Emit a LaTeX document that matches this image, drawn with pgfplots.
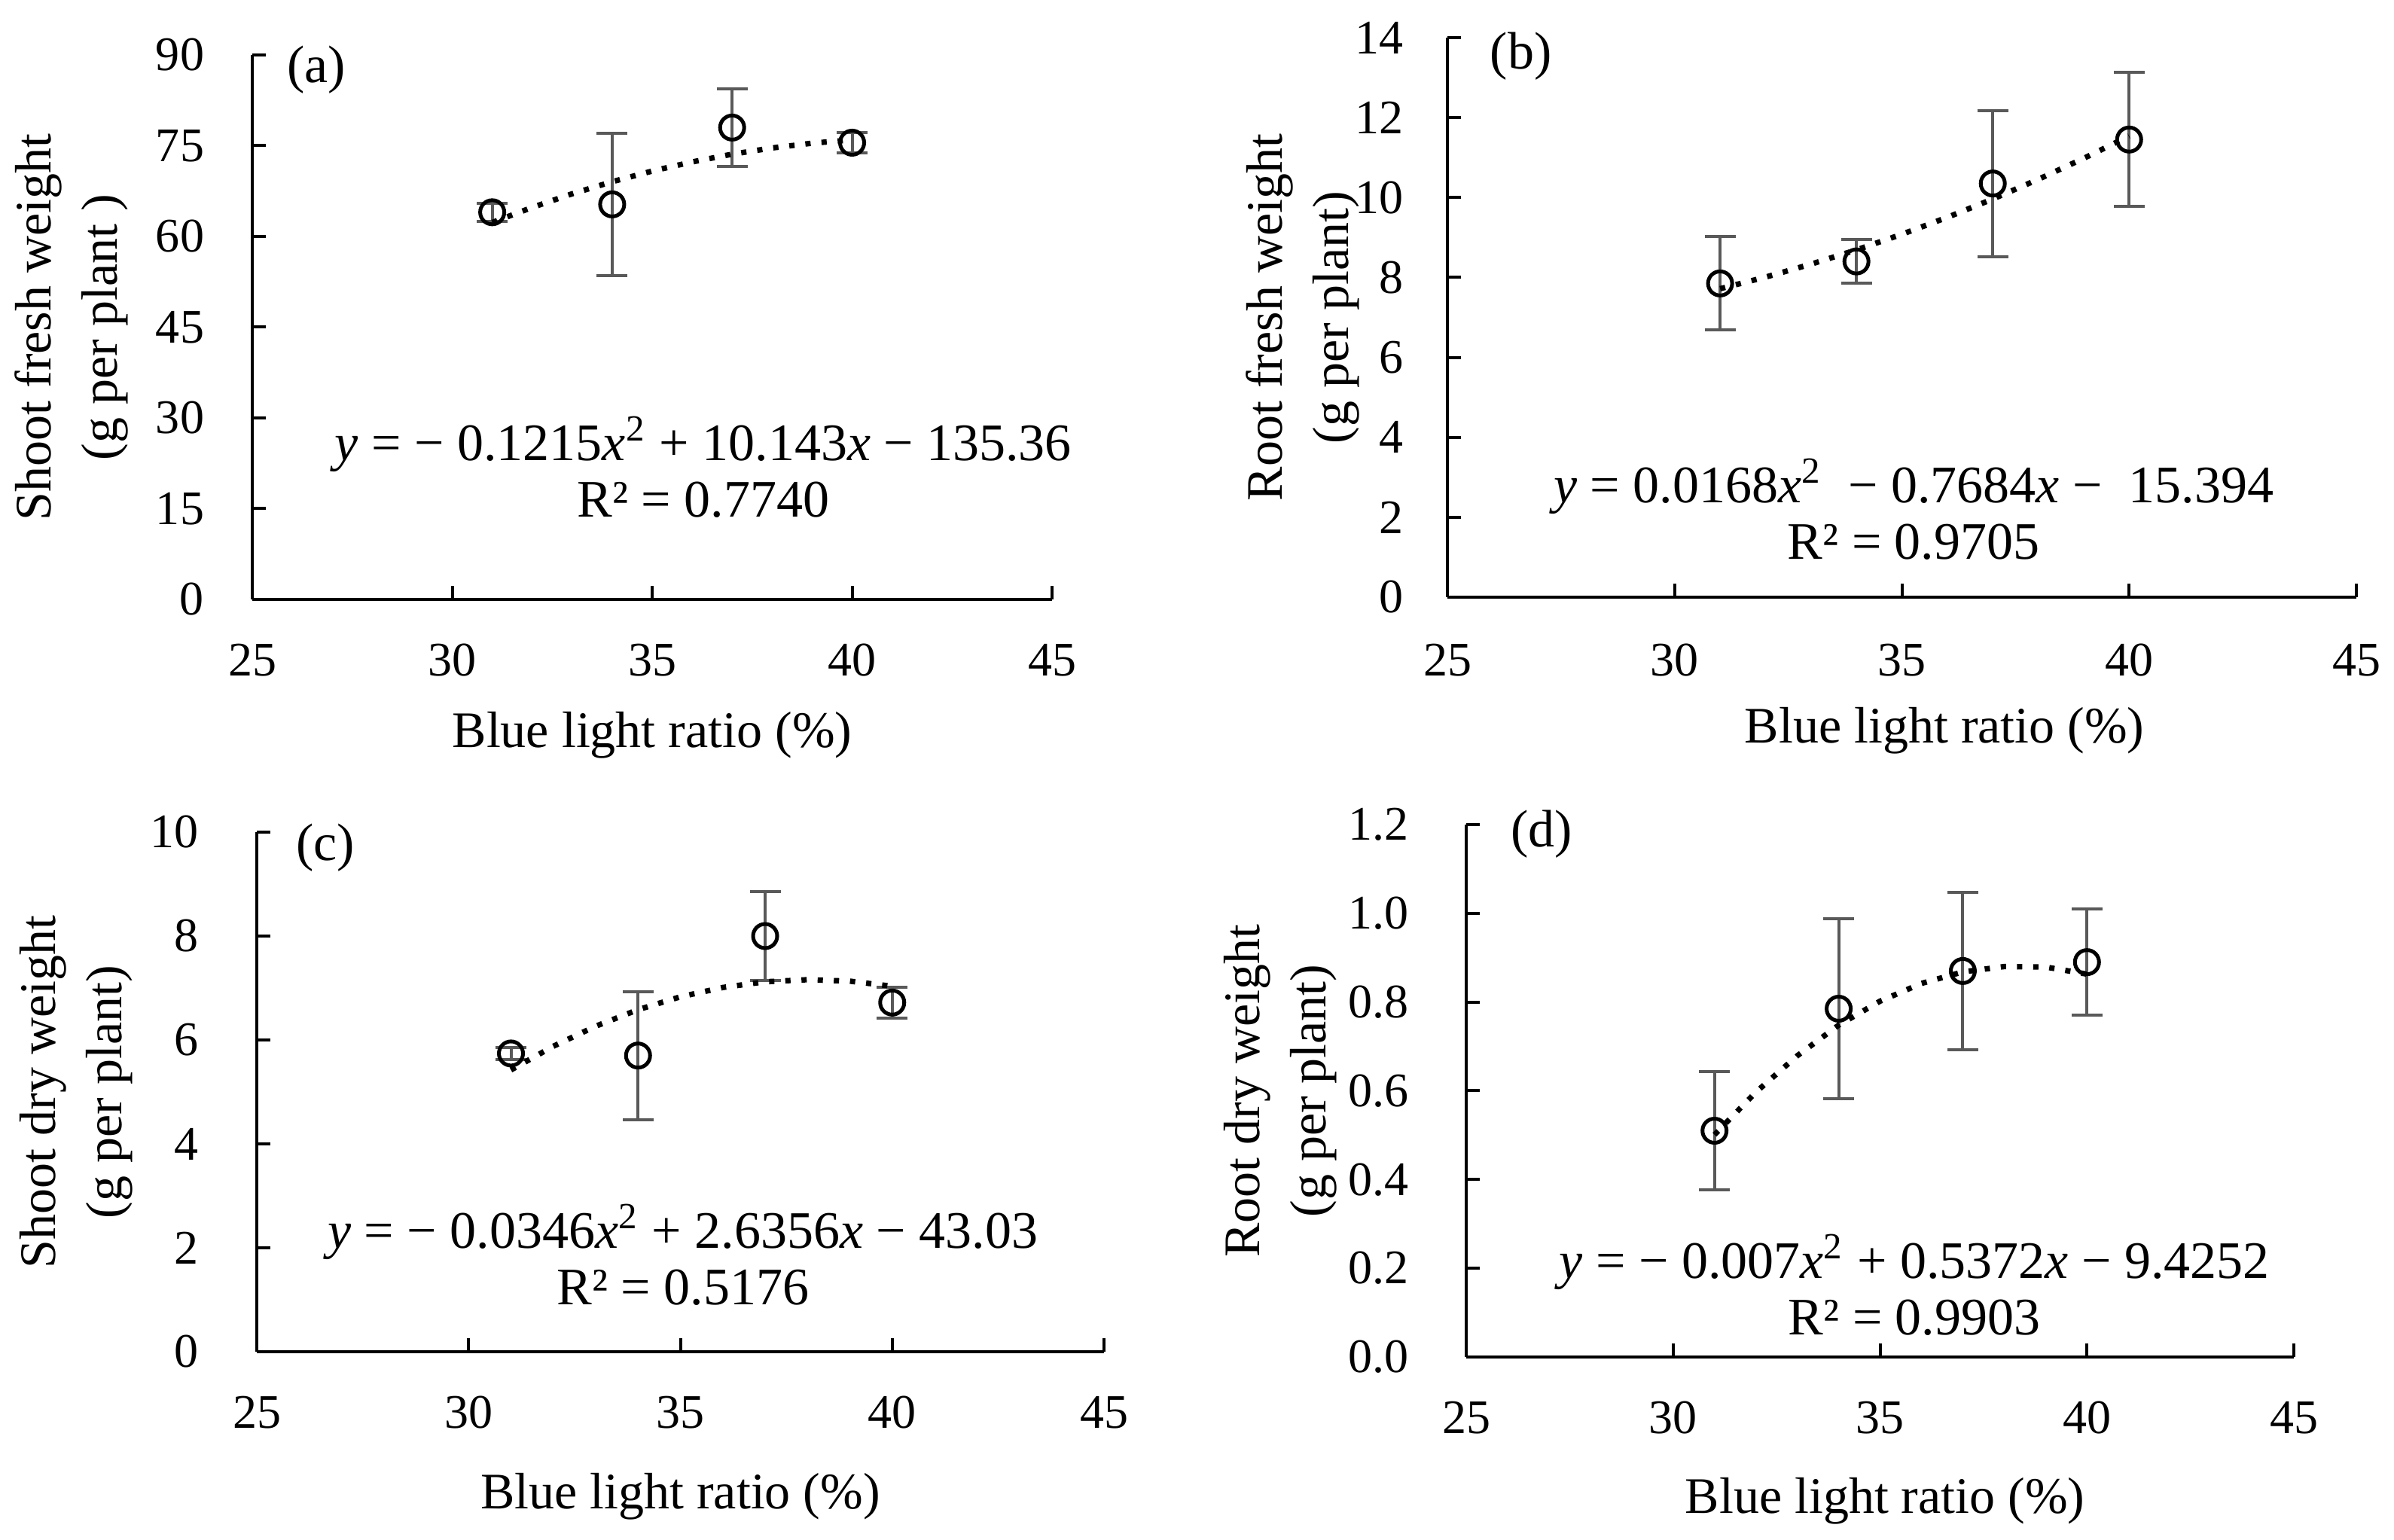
\documentclass[border=0pt]{standalone}
\usepackage{pgfplots}
\pgfplotsset{compat=1.18}
\usepackage{fontspec}
\setmainfont{Liberation Serif}
\definecolor{errgray}{HTML}{595959}
\pgfplotsset{
  panel/.style={
    scale only axis,
    axis x line*=bottom, axis y line*=left,
    tick align=inside,
    xmin=25, xmax=45, xtick={25,30,35,40,45}, ymin=0,
    major tick length=3.6pt,
    axis line style={line width=0.8pt, black},
    every tick/.style={black, line width=0.8pt},
    /pgf/number format/assume math mode=true,
    tick label style={font=\fontsize{12.8}{15}\selectfont},
    xticklabel style={anchor=center, yshift=-16.2pt},
    yticklabel style={anchor=east, inner sep=0pt},
    label style={font=\fontsize{13.6}{17.6}\selectfont},
    xlabel={Blue light ratio (\%)},
    clip=false,
  },
  pts/.style={only marks, mark=o, mark size=3.2pt, mark options={line width=1pt, black},
    error bars/.cd, y dir=both, y explicit,
    error bar style={line width=0.8pt, errgray},
    error mark options={rotate=90, mark size=4.1pt, line width=0.8pt, errgray}},
  trend/.style={black, line width=1.45pt, dash pattern=on 1.4pt off 2.9pt, no marks},
}
\newcommand{\eqfont}{\fontsize{14}{15}\selectfont}
\begin{document}
\begin{tikzpicture}
\path (0,0) rectangle (635.8pt,408.8pt);
% (a)
\begin{axis}[panel, at={(67pt,249.6pt)}, anchor=south west, width=212.4pt, height=144.6pt,
  ymax=90, ytick={0,15,30,45,60,75,90},
  xticklabel style={yshift=0pt}, yticklabel style={xshift=-12.6pt},
  ylabel={Shoot fresh weight\\(g per plant )},
  ylabel style={align=center, at={(axis description cs:-0.226,0.5)}, anchor=center},
  xlabel style={at={(axis description cs:0.5,-0.25)}, anchor=center}]
\addplot+[pts] coordinates {(31,64.0) +- (0,1.5) (34,65.3) +- (0,11.8) (37,78.0) +- (0,6.4) (40,75.5) +- (0,1.7)};
\addplot[trend] coordinates {(31,62.31) (32,64.80) (33,67.05) (34,69.05) (35,70.81) (36,72.32) (37,73.60) (38,74.63) (39,75.42) (40,75.96)};
\node[font=\fontsize{14}{15}\selectfont] at (axis cs:26.6,87.6) {(a)};
\node[align=center, font=\eqfont] at (axis cs:36.28,21.9) {\textit{y} = − 0.1215\textit{x}\textsuperscript{2} + 10.143\textit{x} − 135.36\\R² = 0.7740};
\end{axis}
% (b)
\begin{axis}[panel, at={(384.4pt,250.2pt)}, anchor=south west, width=241.4pt, height=148.6pt,
  ymax=14, ytick={0,2,4,6,8,10,12,14},
  xticklabel style={yshift=-0.6pt}, yticklabel style={xshift=-11.6pt},
  ylabel={Root fresh weight\\(g per plant)},
  ylabel style={align=center, at={(axis description cs:-0.159,0.5)}, anchor=center},
  xlabel style={at={(axis description cs:0.547,-0.238)}, anchor=center}]
\addplot+[pts] coordinates {(31,7.85) +- (0,1.17) (34,8.4) +- (0,0.55) (37,10.35) +- (0,1.83) (40,11.45) +- (0,1.68)};
\addplot[trend] coordinates {(31,7.718) (32,8.008) (33,8.332) (34,8.689) (35,9.080) (36,9.504) (37,9.962) (38,10.454) (39,10.979) (40,11.538)};
\node[font=\fontsize{14}{15}\selectfont] at (axis cs:26.62,13.53) {(b)};
\node[align=center, font=\eqfont] at (axis cs:35.26,2.2) {\textit{y} = 0.0168\textit{x}\textsuperscript{2}\ \ − 0.7684\textit{x} −\ \ 15.394\\R² = 0.9705};
\end{axis}
% (c)
\begin{axis}[panel, at={(68.2pt,49.8pt)}, anchor=south west, width=225pt, height=138pt,
  ymax=10, ytick={0,2,4,6,8,10},
  yticklabel style={xshift=-15.4pt},
  ylabel={Shoot dry weight\\(g per plant)},
  ylabel style={align=center, at={(axis description cs:-0.213,0.5)}, anchor=center},
  xlabel style={at={(axis description cs:0.5,-0.278)}, anchor=center}]
\addplot+[pts] coordinates {(31,5.74) +- (0,0.12) (34,5.70) +- (0,1.23) (37,8.0) +- (0,0.85) (40,6.72) +- (0,0.3)};
\addplot[trend] coordinates {(31,5.423) (32,5.879) (33,6.265) (34,6.583) (35,6.831) (36,7.010) (37,7.120) (38,7.160) (39,7.132) (40,7.034)};
\node[font=\fontsize{14}{15}\selectfont] at (axis cs:26.62,9.70) {(c)};
\node[align=center, font=\eqfont] at (axis cs:35.06,1.87) {\textit{y} = − 0.0346\textit{x}\textsuperscript{2} + 2.6356\textit{x} − 43.03\\R² = 0.5176};
\end{axis}
% (d)
\begin{axis}[panel, at={(389.4pt,48.4pt)}, anchor=south west, width=219.8pt, height=141.4pt,
  ymax=1.2, ytick={0,0.2,0.4,0.6,0.8,1.0,1.2},
  yticklabel style={xshift=-15.2pt, /pgf/number format/.cd, fixed, fixed zerofill, precision=1},
  ylabel={Root dry weight\\(g per plant)},
  ylabel style={align=center, at={(axis description cs:-0.225,0.5)}, anchor=center},
  xlabel style={at={(axis description cs:0.506,-0.270)}, anchor=center}]
\addplot+[pts] coordinates {(31,0.51) +- (0,0.133) (34,0.785) +- (0,0.203) (37,0.87) +- (0,0.178) (40,0.89) +- (0,0.12)};
\addplot[trend] coordinates {(31,0.501) (32,0.597) (33,0.679) (34,0.748) (35,0.802) (36,0.842) (37,0.868) (38,0.880) (39,0.879) (40,0.863)};
\node[font=\fontsize{14}{15}\selectfont] at (axis cs:26.82,1.178) {(d)};
\node[align=center, font=\eqfont] at (axis cs:35.83,0.163) {\textit{y} = − 0.007\textit{x}\textsuperscript{2} + 0.5372\textit{x} − 9.4252\\R² = 0.9903};
\end{axis}
\end{tikzpicture}
\end{document}
